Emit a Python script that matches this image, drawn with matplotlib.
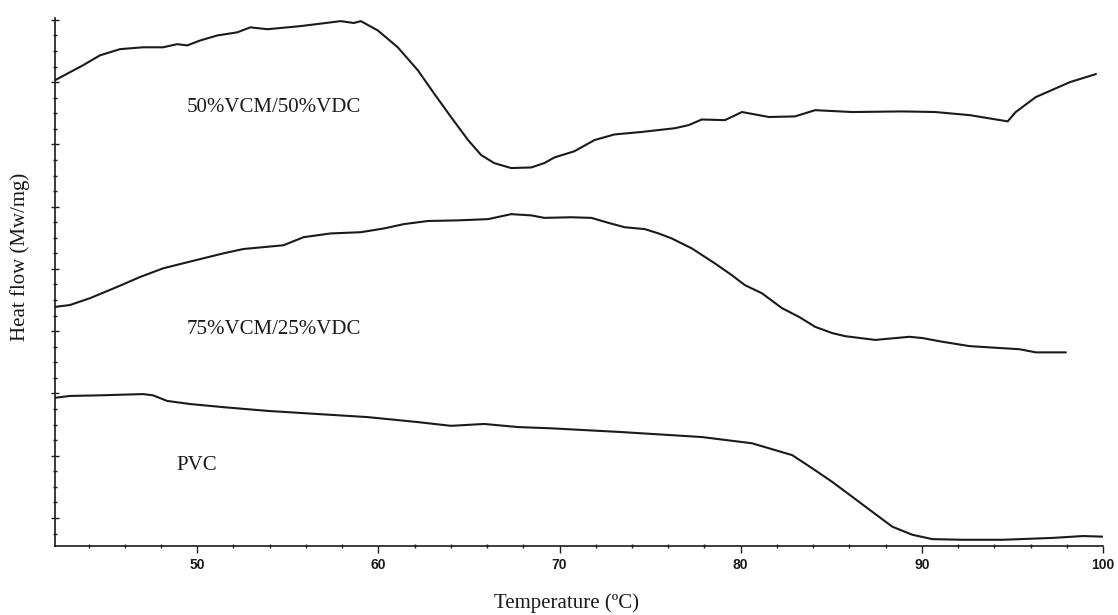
import matplotlib
matplotlib.use("Agg")
import matplotlib.pyplot as plt
import matplotlib.ticker as mticker

# DSC traces (temperature in degC, heat flow in arbitrary units)
t_5050 = [42.14, 43.69, 44.63, 45.74, 47.01, 48.12, 48.89, 49.45, 50.17, 51.11, 52.21, 52.93,
          53.88, 55.70, 57.92, 58.64, 59.03, 59.97, 61.07, 62.18, 63.07, 64.01, 64.95, 65.67,
          66.39, 67.33, 68.44, 69.16, 69.71, 70.82, 71.93, 73.03, 74.53, 76.36, 77.13, 77.85,
          79.13, 80.07, 81.56, 83.00, 84.11, 86.16, 88.93, 90.75, 92.64, 94.74, 95.18, 96.29,
          98.17, 99.61]
hf_5050 = [7.03, 7.27, 7.43, 7.53, 7.56, 7.56, 7.61, 7.59, 7.67, 7.75, 7.80, 7.88,
           7.85, 7.90, 7.98, 7.95, 7.98, 7.83, 7.56, 7.19, 6.82, 6.44, 6.07, 5.83,
           5.70, 5.62, 5.63, 5.70, 5.79, 5.89, 6.07, 6.16, 6.20, 6.26, 6.31, 6.40,
           6.39, 6.52, 6.44, 6.45, 6.55, 6.52, 6.53, 6.52, 6.47, 6.37, 6.52, 6.76,
           7.00, 7.13]

t_7525 = [42.14, 42.97, 44.08, 45.57, 46.84, 48.12, 49.22, 50.33, 51.44, 52.55, 53.65, 54.76,
          55.87, 57.36, 59.03, 60.30, 61.41, 62.74, 64.40, 66.06, 67.33, 68.44, 69.16, 70.65,
          71.76, 72.70, 73.59, 74.70, 75.47, 76.19, 77.30, 78.57, 79.51, 80.23, 81.17, 82.28,
          83.22, 84.11, 85.05, 85.77, 87.43, 89.31, 90.03, 91.14, 92.64, 95.40, 96.29, 97.95]
hf_7525 = [3.39, 3.42, 3.53, 3.71, 3.87, 4.01, 4.09, 4.17, 4.25, 4.32, 4.35, 4.38,
           4.51, 4.57, 4.59, 4.65, 4.72, 4.77, 4.78, 4.80, 4.88, 4.86, 4.82, 4.83,
           4.82, 4.74, 4.67, 4.64, 4.57, 4.49, 4.33, 4.09, 3.90, 3.74, 3.61, 3.37,
           3.23, 3.07, 2.97, 2.92, 2.86, 2.91, 2.89, 2.83, 2.76, 2.71, 2.66, 2.66]

t_pvc = [42.14, 42.97, 44.63, 47.01, 47.56, 48.34, 49.61, 51.44, 53.88, 56.64, 59.41, 62.18,
         64.01, 65.84, 67.72, 69.55, 73.42, 77.85, 80.62, 82.84, 83.94, 85.05, 86.16, 87.26,
         88.37, 89.48, 90.59, 92.25, 94.46, 97.23, 98.89, 100.0]
hf_pvc = [1.93, 1.96, 1.97, 1.99, 1.97, 1.88, 1.83, 1.78, 1.72, 1.67, 1.62, 1.54,
          1.48, 1.51, 1.46, 1.44, 1.38, 1.30, 1.20, 1.01, 0.80, 0.58, 0.34, 0.10,
          -0.14, -0.27, -0.34, -0.35, -0.35, -0.32, -0.29, -0.30]

labels = ["50%VCM/50%VDC", "75%VCM/25%VDC", "PVC"]

serif = ["Liberation Serif", "DejaVu Serif"]

fig = plt.figure(figsize=(11.18, 6.15), dpi=100)
ax = fig.add_axes([0.0492, 0.1122, 0.9374, 0.8585])

ink = "#1a1a1a"
for t, hf in [(t_5050, hf_5050), (t_7525, hf_7525), (t_pvc, hf_pvc)]:
    ax.plot(t, hf, color=ink, lw=1.5, solid_joinstyle="round", solid_capstyle="round")

ax.text(49.4, 6.60, labels[0], fontsize=15, family=serif, color=ink, va="center")
ax.text(49.4, 3.02, labels[1], fontsize=15, family=serif, color=ink, va="center")
ax.text(48.85, 0.85, labels[2], fontsize=15, family=serif, color=ink, va="center")

ax.set_xlim(42.15, 100)
ax.set_ylim(-0.45, 8.03)

ax.xaxis.set_major_locator(mticker.MultipleLocator(10))
ax.xaxis.set_minor_locator(mticker.MultipleLocator(2))
ax.yaxis.set_major_locator(mticker.MultipleLocator(1))
ax.yaxis.set_minor_locator(mticker.MultipleLocator(0.25))
ax.set_yticklabels([])
ax.tick_params(axis="x", which="major", direction="out", length=5, width=1,
               labelsize=10, pad=4, colors=ink)
ax.tick_params(axis="x", which="minor", direction="inout", length=3, width=1, colors=ink)
ax.tick_params(axis="y", which="major", direction="inout", length=6, width=1, colors=ink)
ax.tick_params(axis="y", which="minor", direction="inout", length=3, width=1, colors=ink)
for lab in ax.get_xticklabels():
    lab.set_family(["Liberation Sans", "DejaVu Sans"])
    lab.set_fontweight("bold")

ax.spines["top"].set_visible(False)
ax.spines["right"].set_visible(False)
ax.spines["left"].set_color(ink)
ax.spines["bottom"].set_color(ink)
ax.spines["left"].set_linewidth(1.2)
ax.spines["bottom"].set_linewidth(1.2)

ax.set_xlabel("Temperature (ºC)", fontsize=15, family=serif, color=ink, va="center")
ax.xaxis.set_label_coords(0.4876, -0.108)
ax.set_ylabel("Heat flow (Mw/mg)", fontsize=15, family=serif, color=ink, va="center")
ax.yaxis.set_label_coords(-0.0334, 0.547)

fig.savefig("out.png", dpi=100)
